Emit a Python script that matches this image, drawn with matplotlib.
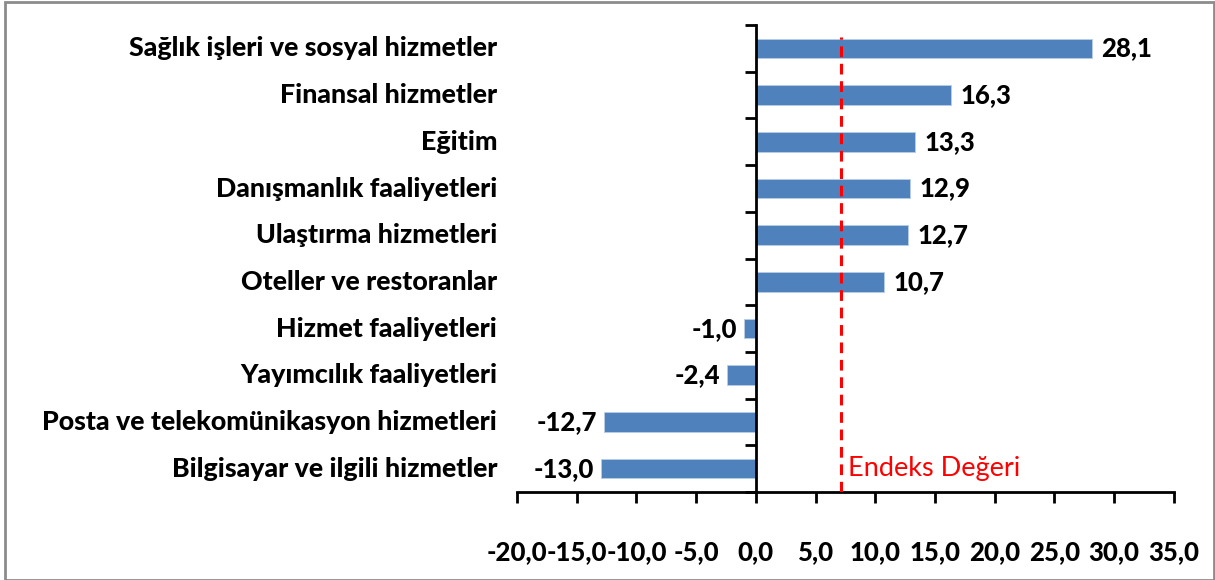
import matplotlib.pyplot as plt
import numpy as np
from matplotlib.patches import Rectangle
from matplotlib.transforms import blended_transform_factory, offset_copy

categories = [
    "Sağlık işleri ve sosyal hizmetler",
    "Finansal hizmetler",
    "Eğitim",
    "Danışmanlık faaliyetleri",
    "Ulaştırma hizmetleri",
    "Oteller ve restoranlar",
    "Hizmet faaliyetleri",
    "Yayımcılık faaliyetleri",
    "Posta ve telekomünikasyon hizmetleri",
    "Bilgisayar ve ilgili hizmetler",
]
values = [28.1, 16.3, 13.3, 12.9, 12.7, 10.7, -1.0, -2.4, -12.7, -13.0]
index_value = 7.1
index_label = "Endeks Değeri"
xticks = [-20, -15, -10, -5, 0, 5, 10, 15, 20, 25, 30, 35]

BAR_COLOR = "#4F81BD"
FONT = "Lato"
WEIGHT = "black"


def fmt(v):
    return f"{v:.1f}".replace(".", ",")


fig = plt.figure(figsize=(12.15, 5.8), dpi=100)
ax = fig.add_axes([0.4255, 0.1517, 0.5407, 0.805])

y = np.arange(len(categories))
ax.barh(y, values, height=0.42, color=BAR_COLOR, edgecolor="#B9CDE5", linewidth=0.6, zorder=2)

ax.set_xlim(-20, 35)
ax.set_ylim(len(categories) - 0.5, -0.5)

# y axis sits on zero, ticks between categories
ax.spines["left"].set_position(("data", 0))
ax.spines["left"].set_linewidth(2)
ax.spines["bottom"].set_linewidth(2)
ax.spines["top"].set_visible(False)
ax.spines["right"].set_visible(False)
ax.set_yticks(np.arange(len(categories) + 1) - 0.5)
ax.set_yticklabels([])
ax.tick_params(axis="y", direction="out", length=8, width=2)

ax.set_xticks(xticks)
ax.set_xticklabels([])
ax.tick_params(axis="x", direction="out", length=8, width=2)

# x tick labels drawn as text so they get the same heavy weight
xtrans = offset_copy(blended_transform_factory(ax.transData, ax.transAxes),
                     fig=fig, x=0, y=-60, units="dots")
for t in xticks:
    ax.text(t, 0, fmt(t), transform=xtrans, ha="center", va="center",
            fontfamily=FONT, fontweight=WEIGHT, fontsize=18.5)

# category labels at the left edge of the plot
trans = blended_transform_factory(ax.transAxes, ax.transData)
for yi, name in zip(y, categories):
    ax.text(-0.03, yi, name, transform=trans, ha="right", va="center",
            fontfamily=FONT, fontweight=WEIGHT, fontsize=19.3)

# value labels
for yi, v in zip(y, values):
    if v >= 0:
        t = offset_copy(ax.transData, fig=fig, x=10, y=0, units="dots")
        ha = "left"
    else:
        t = offset_copy(ax.transData, fig=fig, x=-7, y=0, units="dots")
        ha = "right"
    ax.text(v, yi, fmt(v), transform=t, ha=ha, va="center",
            fontfamily=FONT, fontweight=WEIGHT, fontsize=18.5)

ax.axvline(index_value, ymin=0, ymax=0.974, color="red", linestyle=(0, (3.5, 2.2)),
           linewidth=2.2, zorder=3)
ax.text(index_value, len(categories) - 1, " " + index_label, ha="left", va="center",
        color="red", fontfamily=FONT, fontsize=19.5)

fig.patches.append(Rectangle((0.004, 0.0), 0.995, 0.996, transform=fig.transFigure,
                             fill=False, edgecolor="#8C8C8C", linewidth=2))

fig.savefig("out.png", dpi=100)
